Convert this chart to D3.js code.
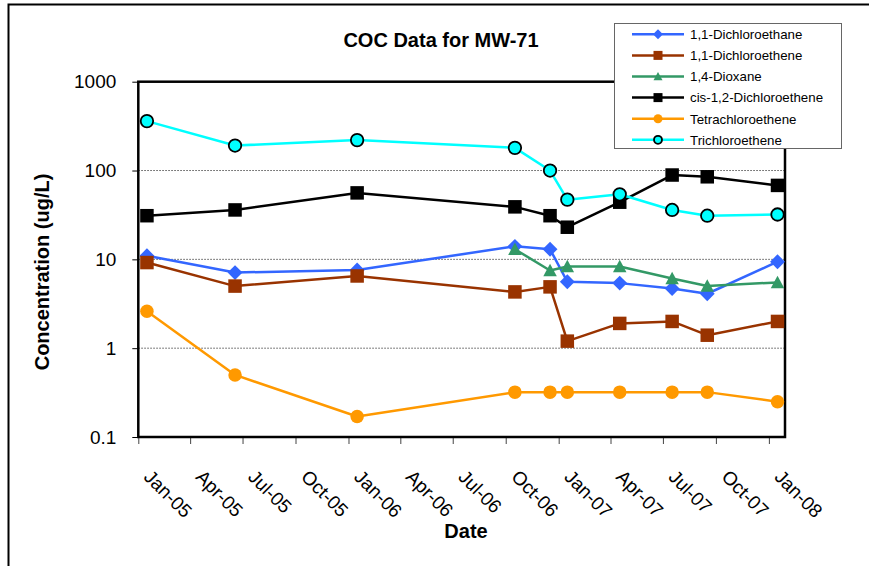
<!DOCTYPE html>
<html>
<head>
<meta charset="utf-8">
<script src="https://cdn.jsdelivr.net/npm/d3@7"></script>
<style>
  html, body { margin: 0; padding: 0; background: #fff; }
  svg { display: block; font-family: "Liberation Sans", Arial, sans-serif; }
</style>
</head>
<body>
<svg id="chart" width="869" height="566"></svg>
<script>
// Sampling dates for monitoring well MW-71
const sampleDates = ["2005-01-16", "2005-06-18", "2006-01-16", "2006-10-17", "2006-12-17",
                     "2007-01-16", "2007-04-17", "2007-07-17", "2007-09-16", "2008-01-16"];

// Concentrations in ug/L (null = not analysed)
const dichloroethane11 = [11, 7.1, 7.6, 14, 13, 5.6, 5.4, 4.7, 4.1, 9.4];
const dichloroethene11 = [9.2, 5.0, 6.5, 4.3, 4.9, 1.2, 1.9, 2.0, 1.4, 2.0];
const dioxane14        = [null, null, null, 13, 7.5, 8.3, 8.3, 6.1, 5.0, 5.5];
const cisDichloroethene = [31, 36, 56, 39, 31, 23, 44, 89, 85, 68];
const tetrachloroethene = [2.6, 0.5, 0.17, 0.32, 0.32, 0.32, 0.32, 0.32, 0.32, 0.25];
const trichloroethene   = [360, 191, 220, 180, 100, 47, 54, 36, 31, 32];

const seriesNames = ["1,1-Dichloroethane", "1,1-Dichloroethene", "1,4-Dioxane",
                     "cis-1,2-Dichloroethene", "Tetrachloroethene", "Trichloroethene"];
const yTickValues = [0.1, 1, 10, 100, 1000];

const chartTitle = "COC Data for MW-71";
const xTitle = "Date";
const yTitle = "Concentration (ug/L)";

const styles = [
  { color: "#3366FF", marker: "diamond" },
  { color: "#993300", marker: "square" },
  { color: "#339966", marker: "triangle" },
  { color: "#000000", marker: "square" },
  { color: "#FF9900", marker: "circle" },
  { color: "#00FFFF", marker: "circleOutlined" }
];

const seriesValues = [dichloroethane11, dichloroethene11, dioxane14,
                      cisDichloroethene, tetrachloroethene, trichloroethene];
const parseDate = d3.utcParse("%Y-%m-%d");
const dates = sampleDates.map(parseDate);
const series = seriesNames.map((name, i) => ({
  name,
  style: styles[i],
  points: seriesValues[i].map((v, j) => ({ date: dates[j], value: v })).filter(p => p.value != null)
}));

const svg = d3.select("#chart");
const plot = { left: 138.3, right: 785, top: 81.7, bottom: 437 };

const x = d3.scaleUtc()
  .domain([Date.UTC(2005, 0, 1), Date.UTC(2008, 0, 29)])
  .range([plot.left, plot.right]);
const y = d3.scaleLog()
  .domain([0.1, 1000])
  .range([plot.bottom, plot.top]);

// outer chart border
svg.append("path")
  .attr("d", `M8.5,566 L8.5,4.5 L869,4.5`)
  .attr("fill", "none").attr("stroke", "#000").attr("stroke-width", 2);

// horizontal gridlines
svg.append("g").selectAll("line")
  .data([1, 10, 100])
  .join("line")
  .attr("x1", plot.left).attr("x2", plot.right)
  .attr("y1", d => y(d)).attr("y2", d => y(d))
  .attr("stroke", "#555").attr("stroke-width", 1)
  .attr("stroke-dasharray", "1.5,1.5");

// y axis
const yAxis = svg.append("g")
  .attr("transform", `translate(${plot.left},0)`)
  .call(d3.axisLeft(y).tickValues(yTickValues).tickFormat(d3.format("~g"))
        .tickSize(6).tickPadding(16));
yAxis.select(".domain").remove();
yAxis.selectAll(".tick line").attr("stroke", "#000").attr("stroke-width", 1);
yAxis.selectAll(".tick text")
  .attr("font-size", 19).attr("fill", "#000")
  .attr("font-family", "Liberation Sans, Arial, sans-serif");

// x axis
const xAxis = svg.append("g")
  .attr("transform", `translate(0,${plot.bottom})`)
  .call(d3.axisBottom(x).ticks(d3.utcMonth.every(3)).tickFormat(d3.utcFormat("%b-%y"))
        .tickSize(7));
xAxis.select(".domain").remove();
xAxis.selectAll(".tick line").attr("stroke", "#444").attr("stroke-width", 1);
xAxis.selectAll(".tick text")
  .attr("font-size", 19).attr("fill", "#000")
  .attr("font-family", "Liberation Sans, Arial, sans-serif")
  .attr("text-anchor", "start")
  .attr("x", 0).attr("y", 0).attr("dy", null)
  .attr("transform", "translate(4,41) rotate(45)");

// plot area frame
svg.append("rect")
  .attr("x", plot.left).attr("y", plot.top)
  .attr("width", plot.right - plot.left).attr("height", plot.bottom - plot.top)
  .attr("fill", "none").attr("stroke", "#000").attr("stroke-width", 2.5);

// marker drawing
function drawMarker(sel, style, size) {
  const c = style.color;
  if (style.marker === "diamond") {
    const h = size * 0.55;
    sel.append("path").attr("d", `M0,${-h}L${h},0L0,${h}L${-h},0Z`).attr("fill", c);
  } else if (style.marker === "square") {
    const h = size / 2;
    sel.append("rect").attr("x", -h).attr("y", -h).attr("width", size).attr("height", size).attr("fill", c);
  } else if (style.marker === "triangle") {
    const h = size / 2;
    sel.append("path").attr("d", `M0,${-h}L${h},${h * 0.85}L${-h},${h * 0.85}Z`).attr("fill", c);
  } else if (style.marker === "circle") {
    sel.append("circle").attr("r", size / 2).attr("fill", c);
  } else if (style.marker === "circleOutlined") {
    sel.append("circle").attr("r", size / 2 - 0.5).attr("fill", c)
      .attr("stroke", "#000").attr("stroke-width", 1.8);
  }
}

const line = d3.line().x(d => x(d.date)).y(d => y(d.value));

series.forEach(s => {
  const g = svg.append("g");
  g.append("path")
    .attr("d", line(s.points))
    .attr("fill", "none").attr("stroke", s.style.color).attr("stroke-width", 2.5)
    .attr("stroke-linejoin", "round");
  g.selectAll("g.m")
    .data(s.points)
    .join("g").attr("class", "m")
    .attr("transform", d => `translate(${x(d.date)},${y(d.value)})`)
    .each(function () { drawMarker(d3.select(this), s.style, 13.5); });
});

// title and axis titles
svg.append("text")
  .attr("x", 441).attr("y", 47)
  .attr("text-anchor", "middle").attr("font-size", 20).attr("font-weight", "bold")
  .text(chartTitle);
svg.append("text")
  .attr("x", 466).attr("y", 538)
  .attr("text-anchor", "middle").attr("font-size", 20).attr("font-weight", "bold")
  .text(xTitle);
svg.append("text")
  .attr("transform", "translate(49,272) rotate(-90)")
  .attr("text-anchor", "middle").attr("font-size", 20).attr("font-weight", "bold")
  .text(yTitle);

// legend
const legend = svg.append("g");
legend.append("rect")
  .attr("x", 614.5).attr("y", 23.5).attr("width", 227).attr("height", 125)
  .attr("fill", "#fff").attr("stroke", "#666").attr("stroke-width", 1);
series.forEach((s, i) => {
  const ry = 34.3 + i * 21.1;
  const row = legend.append("g");
  row.append("line")
    .attr("x1", 632).attr("x2", 684).attr("y1", ry).attr("y2", ry)
    .attr("stroke", s.style.color).attr("stroke-width", 2.5);
  const m = row.append("g").attr("transform", `translate(658,${ry})`);
  drawMarker(m, s.style, 9);
  row.append("text")
    .attr("x", 690).attr("y", ry + 4.8)
    .attr("font-size", 13.3).attr("fill", "#000")
    .text(s.name);
});
</script>
</body>
</html>
